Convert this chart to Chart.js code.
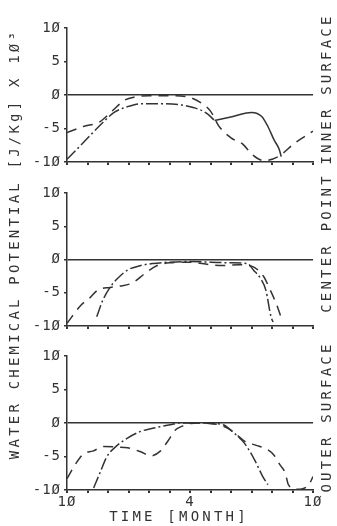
<!DOCTYPE html>
<html>
<head>
<meta charset="utf-8">
<title>Water chemical potential</title>
<script src="https://cdn.jsdelivr.net/npm/chart.js@4.4.1/dist/chart.umd.min.js"></script>
<style>
  html, body { margin: 0; padding: 0; background: #fff; }
  #wrap { position: relative; width: 337px; height: 526px; }
  #wrap canvas { position: absolute; left: 0; top: 0; }
</style>
</head>
<body>
<div id="wrap">
  <canvas id="inner" width="337" height="526"></canvas>
  <canvas id="center" width="337" height="526"></canvas>
  <canvas id="outer" width="337" height="526"></canvas>
</div>
<script>
// x runs in months from October (0) to the next October (12)
const monthTickValues = [0, 6, 12];
const monthTickLabels = ['1Ø', '4', '1Ø'];
const potentialTickValues = [10, 5, 0, -5, -10];
const potentialTickLabels = ['1Ø', '5', 'Ø', '-5', '-1Ø'];

// inner surface
const innerDashDotX = [0, 0.8, 1.65, 2.3, 3.0, 3.6, 4.6, 5.6, 6.2, 6.8, 7.2];
const innerDashDotY = [-9.6, -7.1, -4.4, -2.6, -1.7, -1.3, -1.3, -1.5, -1.9, -2.7, -3.8];
const innerSolidX = [7.2, 8.1, 9.0, 9.5, 9.8, 10.1, 10.35, 10.45];
const innerSolidY = [-3.8, -3.2, -2.6, -3.2, -4.7, -6.7, -8.1, -9.2];
const innerDashedX = [0, 0.8, 1.6, 2.2, 2.8, 3.3, 4, 5, 5.9, 6.5, 7.0, 7.4, 8.0, 8.6, 9.0, 9.6, 10.3, 11.1, 11.8, 12];
const innerDashedY = [-5.6, -4.7, -4.0, -2.4, -0.8, -0.3, -0.1, -0.1, -0.3, -1.1, -2.4, -4.6, -6.4, -7.4, -8.8, -9.8, -9.2, -7.2, -5.8, -5.4];

// center point
const centerDashDotX = [1.45, 1.75, 2.1, 2.45, 2.95, 3.6, 4.2, 5, 6, 7, 8, 8.8, 9.1, 9.45, 9.7, 9.95, 10.05];
const centerDashDotY = [-8.6, -6.1, -4.2, -2.9, -1.6, -0.9, -0.6, -0.4, -0.3, -0.4, -0.5, -0.6, -1.6, -2.9, -4.6, -8.6, -9.4];
const centerDashedX = [0, 0.7, 1.1, 1.5, 2.1, 2.6, 3.2, 3.8, 4.4, 5.0, 6.0, 7.0, 7.6, 8.4, 9.0, 9.6, 9.9, 10.2, 10.5];
const centerDashedY = [-9.6, -6.8, -5.8, -4.6, -4.2, -4.0, -3.5, -2.1, -0.9, -0.5, -0.4, -0.8, -0.9, -0.8, -1.0, -2.6, -4.5, -6.6, -9.2];

// outer surface
const outerDashDotX = [1.3, 1.6, 1.95, 2.3, 2.95, 3.6, 4.25, 5.05, 5.5, 6.5, 7.2, 7.65, 8.15, 8.65, 9.15, 9.55, 9.8];
const outerDashDotY = [-9.7, -7.5, -5.0, -3.75, -2.25, -1.25, -0.75, -0.25, 0, 0, -0.1, -0.3, -1.5, -3.0, -5.5, -8.0, -9.2];
const outerDashedX = [0, 0.4, 0.85, 1.25, 1.8, 2.45, 2.95, 3.6, 4.1, 4.55, 4.9, 5.3, 5.6, 5.9, 6.5, 7.3, 7.85, 8.3, 8.7, 9.2, 9.8, 10.1, 10.4, 10.65, 10.8, 11.2, 11.8, 12];
const outerDashedY = [-8.3, -6.2, -4.5, -4.2, -3.5, -3.6, -3.7, -4.3, -4.9, -4.2, -2.8, -1.0, -0.5, -0.1, 0, -0.2, -0.8, -1.8, -2.8, -3.3, -4.0, -4.8, -6.3, -7.5, -9.2, -9.9, -9.2, -8.0];

const INK = '#333';
const FONT = '"DejaVu Sans Mono", "Liberation Mono", monospace';
const DASHED = [10, 7];
const DASH_DOT = [12, 3, 2, 3];

function points(xs, ys) {
  return xs.map((x, i) => ({ x, y: ys[i] }));
}

function line(xs, ys, dash) {
  return {
    data: points(xs, ys),
    borderColor: INK,
    borderWidth: 1.5,
    borderDash: dash,
    pointRadius: 0,
    fill: false,
    cubicInterpolationMode: 'monotone',
  };
}

function labelFor(values, labels) {
  return v => {
    const i = values.indexOf(v);
    return i >= 0 ? labels[i] : '';
  };
}

// plotter style lettering, drawn after the chart
const plotterText = {
  id: 'plotterText',
  beforeDraw(chart) {
    chart.ctx.letterSpacing = '1px';
  },
  afterDraw(chart, args, opts) {
    const ctx = chart.ctx;
    ctx.save();
    ctx.font = '14px ' + FONT;
    ctx.fillStyle = INK;
    ctx.letterSpacing = '3.2px';
    ctx.textAlign = 'center';
    ctx.textBaseline = 'middle';
    (opts.labels || []).forEach(label => {
      ctx.save();
      ctx.translate(label.x, label.y);
      ctx.rotate(label.angle || 0);
      ctx.fillText(label.text, 0, 0);
      ctx.restore();
    });
    ctx.restore();
  },
};

function makePanel(canvasId, datasets, opts) {
  const last = opts.showMonths;
  return new Chart(document.getElementById(canvasId), {
    type: 'line',
    data: { datasets },
    plugins: [plotterText],
    options: {
      responsive: false,
      animation: false,
      events: [],
      layout: { padding: { left: 0, right: 24, top: opts.top, bottom: opts.bottom } },
      plugins: {
        legend: { display: false },
        tooltip: { enabled: false },
        plotterText: { labels: opts.labels },
      },
      scales: {
        x: {
          type: 'linear',
          min: 0,
          max: 12,
          afterFit: scale => { scale.height = last ? 28 : 4; },
          border: { display: true, color: INK, width: 1.5 },
          grid: { drawOnChartArea: false, color: INK, tickLength: 3, lineWidth: 2 },
          ticks: {
            display: last,
            stepSize: 1,
            autoSkip: false,
            maxRotation: 0,
            padding: 1,
            color: INK,
            font: { family: FONT, size: 14 },
            callback: labelFor(monthTickValues, monthTickLabels),
          },
        },
        y: {
          min: -10,
          max: 10,
          afterFit: scale => { scale.width = 67; },
          afterBuildTicks: scale => {
            scale.ticks = potentialTickValues.map(value => ({ value }));
          },
          border: { display: true, color: INK, width: 1.5 },
          grid: {
            color: c => (c.tick && c.tick.value === 0 ? INK : 'rgba(0,0,0,0)'),
            tickColor: INK,
            tickLength: 3,
            lineWidth: 1.5,
          },
          ticks: {
            padding: 3,
            color: INK,
            font: { family: FONT, size: 14 },
            callback: labelFor(potentialTickValues, potentialTickLabels),
          },
        },
      },
    },
  });
}

const UP = -Math.PI / 2;

makePanel('inner', [
  line(innerDashDotX, innerDashDotY, DASH_DOT),
  line(innerSolidX, innerSolidY, []),
  line(innerDashedX, innerDashedY, DASHED),
], {
  top: 28,
  bottom: 526 - 162 - 4,
  showMonths: false,
  labels: [
    { text: 'WATER CHEMICAL POTENTIAL [J/Kg] X 1Ø³', x: 15, y: 244, angle: UP },
    { text: 'INNER SURFACE', x: 327, y: 89, angle: UP },
  ],
});

makePanel('center', [
  line(centerDashDotX, centerDashDotY, DASH_DOT),
  line(centerDashedX, centerDashedY, DASHED),
], {
  top: 193,
  bottom: 526 - 326 - 4,
  showMonths: false,
  labels: [
    { text: 'CENTER POINT', x: 327, y: 243, angle: UP },
  ],
});

makePanel('outer', [
  line(outerDashDotX, outerDashDotY, DASH_DOT),
  line(outerDashedX, outerDashedY, DASHED),
], {
  top: 356,
  bottom: 526 - 490 - 28,
  showMonths: true,
  labels: [
    { text: 'OUTER SURFACE', x: 327, y: 417, angle: UP },
    { text: 'TIME [MONTH]', x: 179, y: 517 },
  ],
});
</script>
</body>
</html>
